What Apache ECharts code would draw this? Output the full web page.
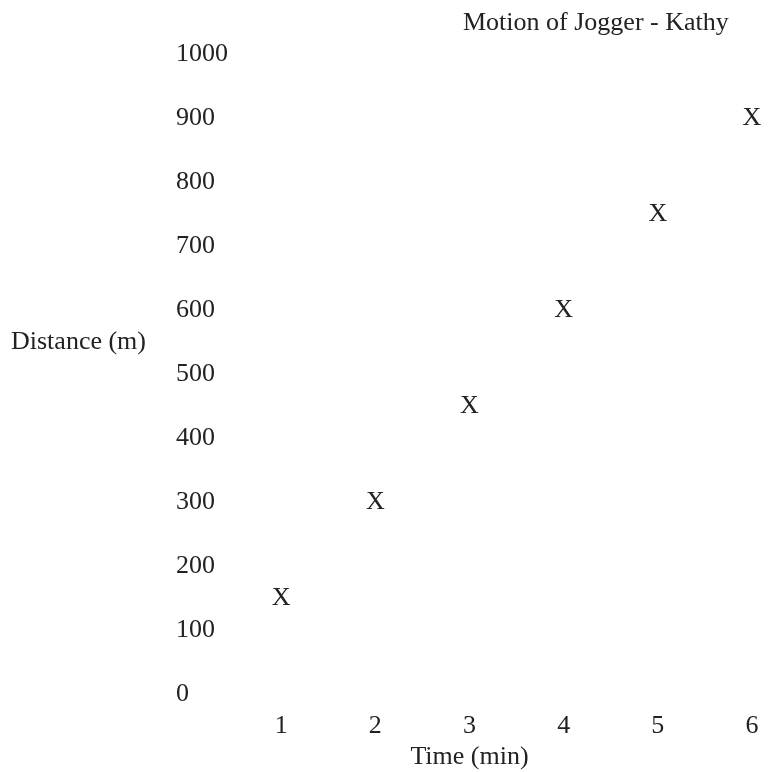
<!DOCTYPE html>
<html>
<head>
<meta charset="utf-8">
<script src="https://cdn.jsdelivr.net/npm/echarts@6/dist/echarts.min.js"></script>
<style>
  html, body { margin: 0; padding: 0; background: #fff; }
  #chart { width: 773px; height: 772px; }
</style>
</head>
<body>
<div id="chart"></div>
<script>
// Kathy's jogging data: elapsed time (min) and distance covered (m)
const timeMin = [1, 2, 3, 4, 5, 6];
const distanceM = [150, 300, 450, 600, 750, 900];
const titleText = 'Motion of Jogger - Kathy';
const xName = 'Time (min)';
const yName = 'Distance (m)';

const FONT = '"Liberation Serif", "DejaVu Serif", serif';
const INK = '#222222';

const chart = echarts.init(document.getElementById('chart'), null, { renderer: 'canvas' });

chart.setOption({
  backgroundColor: '#ffffff',
  animation: false,
  title: {
    text: titleText,
    left: 458,
    top: 5,
    textStyle: { fontFamily: FONT, fontSize: 26, fontWeight: 'normal', color: INK }
  },
  // y-axis title sits to the left of the tick labels, unrotated
  graphic: [{
    type: 'text',
    left: 11,
    top: 329,
    style: { text: yName, font: '26px ' + FONT, fill: INK }
  }],
  grid: { left: 187, right: 21, top: 54, bottom: 78, containLabel: false, outerBoundsMode: 'none' },
  xAxis: {
    type: 'value',
    min: 0, max: 6, interval: 1,
    name: xName,
    nameLocation: 'middle',
    nameGap: 41,
    nameTextStyle: { fontFamily: FONT, fontSize: 26, color: INK },
    axisLine: { show: false },
    axisTick: { show: false },
    splitLine: { show: false },
    axisLabel: {
      fontFamily: FONT, fontSize: 26, color: INK, margin: 19,
      formatter: v => (v === 0 ? '' : String(v))
    }
  },
  yAxis: {
    type: 'value',
    min: 0, max: 1000, interval: 100,
    axisLine: { show: false },
    axisTick: { show: false },
    splitLine: { show: false },
    axisLabel: {
      fontFamily: FONT, fontSize: 26, color: INK, margin: 11, align: 'left',
      formatter: v => String(v)
    }
  },
  series: [{
    type: 'scatter',
    data: timeMin.map((t, i) => [t, distanceM[i]]),
    symbolSize: 1,
    itemStyle: { color: 'rgba(0,0,0,0)', opacity: 1 },
    // each point is drawn as a letter "X"
    label: {
      show: true,
      position: 'inside',
      formatter: 'X',
      fontFamily: FONT, fontSize: 26, color: INK, opacity: 1
    },
    emphasis: { disabled: true }
  }]
});
</script>
</body>
</html>
